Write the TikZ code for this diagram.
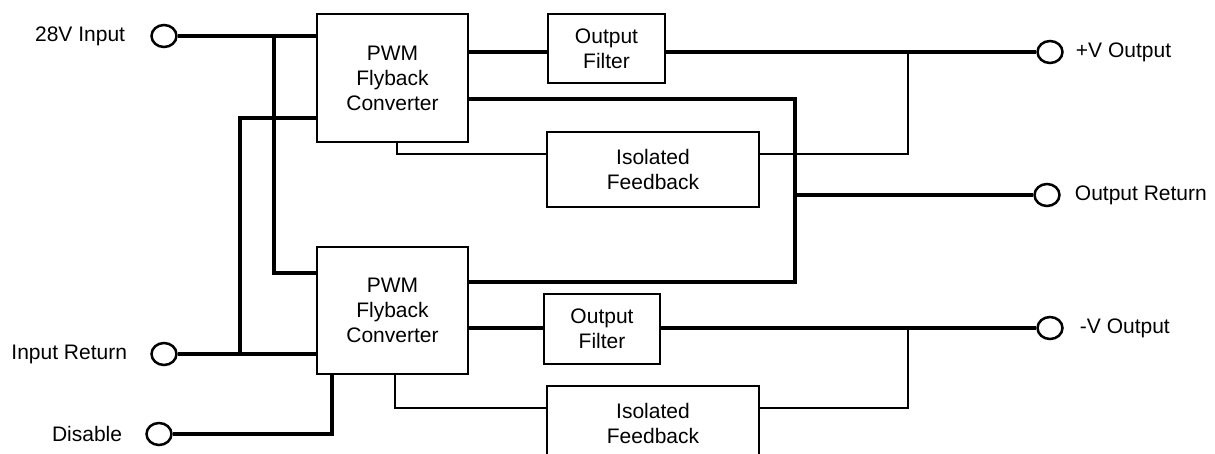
\documentclass[tikz,border=0pt]{standalone}
\usepackage{fontspec}
\setmainfont{Liberation Sans}
\usepackage{tikz}
\usetikzlibrary{positioning, shapes.geometric, calc}

\begin{document}
\begin{tikzpicture}[x=1pt, y=-1pt,
    block/.style={draw, line width=2.8pt, align=center, inner sep=0pt,
                  font=\fontsize{21}{25}\selectfont},
    term/.style={draw, ellipse, line width=2.5pt, minimum width=25pt,
                 minimum height=22pt, inner sep=0pt},
    termlabel/.style={inner sep=0pt, font=\fontsize{21}{25}\selectfont},
    wire/.style={line width=3.3pt},
    thinwire/.style={line width=2.3pt}]

  \clip (0,0) rectangle (1215,453);

  % Converter, filter and feedback blocks
  \node[block, minimum width=151pt, minimum height=128pt] (pwmA) at (392.5,78) {PWM\\Flyback\\Converter};
  \node[block, minimum width=151pt, minimum height=127pt] (pwmB) at (392.5,310.5) {PWM\\Flyback\\Converter};
  \node[block, minimum width=117pt, minimum height=69pt] (ofA) at (606.5,48.5) {Output\\Filter};
  \node[block, minimum width=116pt, minimum height=70pt] (ofB) at (602,329) {Output\\Filter};
  \node[block, minimum width=212pt, minimum height=75pt] (fbA) at (653,169.5) {Isolated\\Feedback};
  \node[block, minimum width=212pt, minimum height=75pt] (fbB) at (653,423.5) {Isolated\\Feedback};

  % Terminals and their labels
  \node[term] (inV)    at (164,36)   {};
  \node[term] (inRet)  at (164,354)  {};
  \node[term] (dis)    at (159,434)  {};
  \node[term] (vPos)   at (1050,52)  {};
  \node[term] (outRet) at (1047,195) {};
  \node[term] (vNeg)   at (1050,328) {};

  \node[termlabel, left=25pt of inV]     {28V Input};
  \node[termlabel, left=23pt of inRet]   {Input Return};
  \node[termlabel, left=23pt of dis]     {Disable};
  \node[termlabel, right=12pt of vPos]   {+V Output};
  \node[termlabel, right=14pt of outRet] {Output Return};
  \node[termlabel, right=16pt of vNeg]   {-V Output};

  % Junction points
  \coordinate (tapIn)  at (274,36);
  \coordinate (tapInB) at (274,273);
  \coordinate (tapRet) at (240,118);
  \coordinate (tapDis) at (332,434);
  \coordinate (busTop) at (795,99);
  \coordinate (busBot) at (795,282);
  \coordinate (fbTapA) at (397,154);
  \coordinate (fbTapB) at (395,408);
  \coordinate (senseA) at (908,52);
  \coordinate (senseB) at (908,328);

  % Input side
  \draw[wire] (inV.east) -- (inV -| pwmA.west);
  \draw[wire] (tapIn) -- (tapInB) -- (tapInB -| pwmB.west);
  \draw[wire] (inRet.east) -- (inRet -| pwmB.west);
  \draw[wire] (tapRet |- inRet) -- (tapRet) -- (tapRet -| pwmA.west);
  \draw[wire] (dis.east) -- (tapDis) -- (tapDis |- pwmB.south);

  % Output side
  \draw[wire] (vPos -| pwmA.east) -- (vPos -| ofA.west);
  \draw[wire] (vPos -| ofA.east) -- (vPos.west);
  \draw[wire] (vNeg -| pwmB.east) -- (vNeg -| ofB.west);
  \draw[wire] (vNeg -| ofB.east) -- (vNeg.west);
  \draw[wire] (busTop -| pwmA.east) -- (busTop) -- (busBot) -- (busBot -| pwmB.east);
  \draw[wire] (busTop |- outRet) -- (outRet.west);

  % Feedback loops
  \draw[thinwire] (fbTapA |- pwmA.south) -- (fbTapA) -- (fbTapA -| fbA.west);
  \draw[thinwire] (fbTapA -| fbA.east) -| (senseA);
  \draw[thinwire] (fbTapB |- pwmB.south) -- (fbTapB) -- (fbTapB -| fbB.west);
  \draw[thinwire] (fbTapB -| fbB.east) -| (senseB);

\end{tikzpicture}
\end{document}
